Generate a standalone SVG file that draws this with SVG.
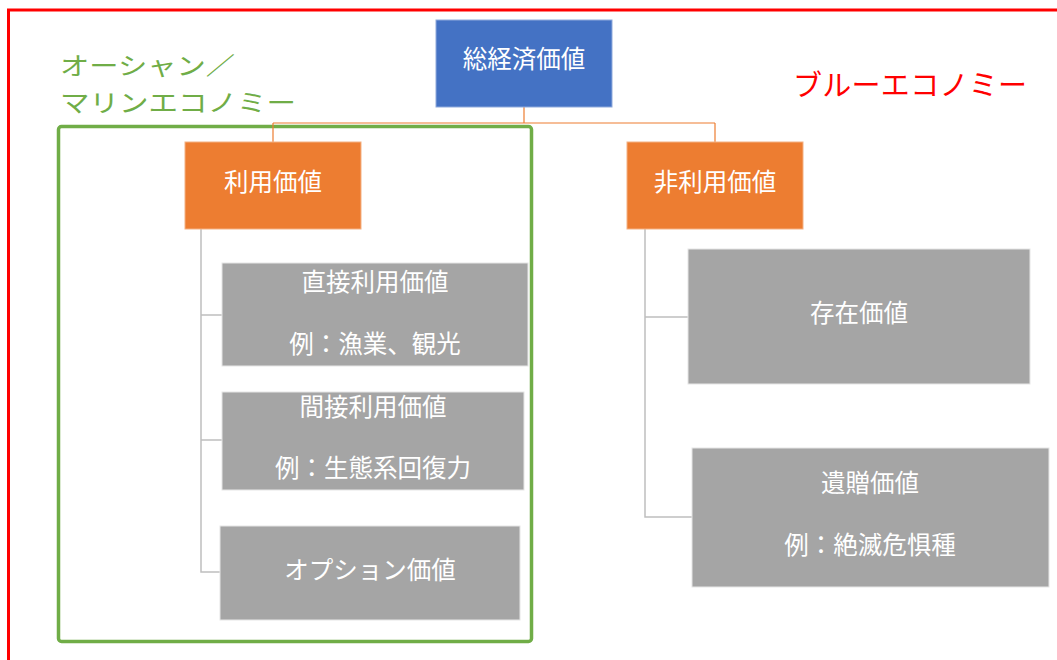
<svg xmlns="http://www.w3.org/2000/svg" width="1057" height="660" viewBox="0 0 1057 660">
<style>
text{font-family:"Noto Sans CJK JP","Noto Sans",sans-serif;dominant-baseline:central;text-anchor:middle}
.w{fill:#FFFFFF;font-size:24.5px}
.gray{fill:#A5A5A5;stroke:#E6E6E6;stroke-width:1}
.org{fill:#ED7D31;stroke:#F4B183;stroke-width:1}
.conn-o{fill:none;stroke:#ED7D31;stroke-width:1.2}
.conn-g{fill:none;stroke:#BFBFBF;stroke-width:1.5}
</style>
<rect width="1057" height="660" fill="#FFFFFF"/>
<rect x="8.5" y="10" width="1100" height="700" fill="none" stroke="#FF0000" stroke-width="3"/>
<text x="793" y="83" font-size="29" fill="#FF0000" style="text-anchor:start" textLength="234">ブルーエコノミー</text>
<g id="ocean-label">
<text x="60" y="64" font-size="24.5" fill="#70AD47" style="text-anchor:start" textLength="175" lengthAdjust="spacingAndGlyphs">オーシャン／</text>
<text x="60" y="101" font-size="24.5" fill="#70AD47" style="text-anchor:start" textLength="236" lengthAdjust="spacingAndGlyphs">マリンエコノミー</text>
</g>
<rect id="ocean-box" x="58.5" y="126.5" width="473" height="515" rx="3" fill="none" stroke="#70AD47" stroke-width="3.5"/>
<g id="connectors">
<path class="conn-o" d="M524 107V123M273 123H715M273 123V142M715 123V142"/>
<path class="conn-g" d="M201 229V572H220M201 315H222M201 440H222"/>
<path class="conn-g" d="M645 229V517H692M645 317H688"/>
</g>
<g id="total">
<rect x="436" y="20" width="176" height="87" fill="#4472C4" stroke="#8FAADC" stroke-width="1"/>
<text class="w" x="524" y="57">総経済価値</text>
</g>
<g id="use">
<rect class="org" x="185" y="142" width="176" height="87"/>
<text class="w" x="273" y="180">利用価値</text>
</g>
<g id="nonuse">
<rect class="org" x="627" y="142" width="176" height="87"/>
<text class="w" x="715" y="180">非利用価値</text>
</g>
<g id="direct">
<rect class="gray" x="222" y="263" width="306" height="103"/>
<text class="w" x="375" y="280">直接利用価値</text>
<text class="w" x="375" y="342">例：漁業、観光</text>
</g>
<g id="indirect">
<rect class="gray" x="222" y="392" width="302" height="98"/>
<text class="w" x="373" y="405">間接利用価値</text>
<text class="w" x="373" y="466">例：生態系回復力</text>
</g>
<g id="option">
<rect class="gray" x="220" y="526" width="300" height="94"/>
<text class="w" x="370" y="568">オプション価値</text>
</g>
<g id="existence">
<rect class="gray" x="688" y="249" width="342" height="135"/>
<text class="w" x="859" y="311">存在価値</text>
</g>
<g id="bequest">
<rect class="gray" x="692" y="448" width="357" height="139"/>
<text class="w" x="870" y="481">遺贈価値</text>
<text class="w" x="870" y="543">例：絶滅危惧種</text>
</g>
</svg>
